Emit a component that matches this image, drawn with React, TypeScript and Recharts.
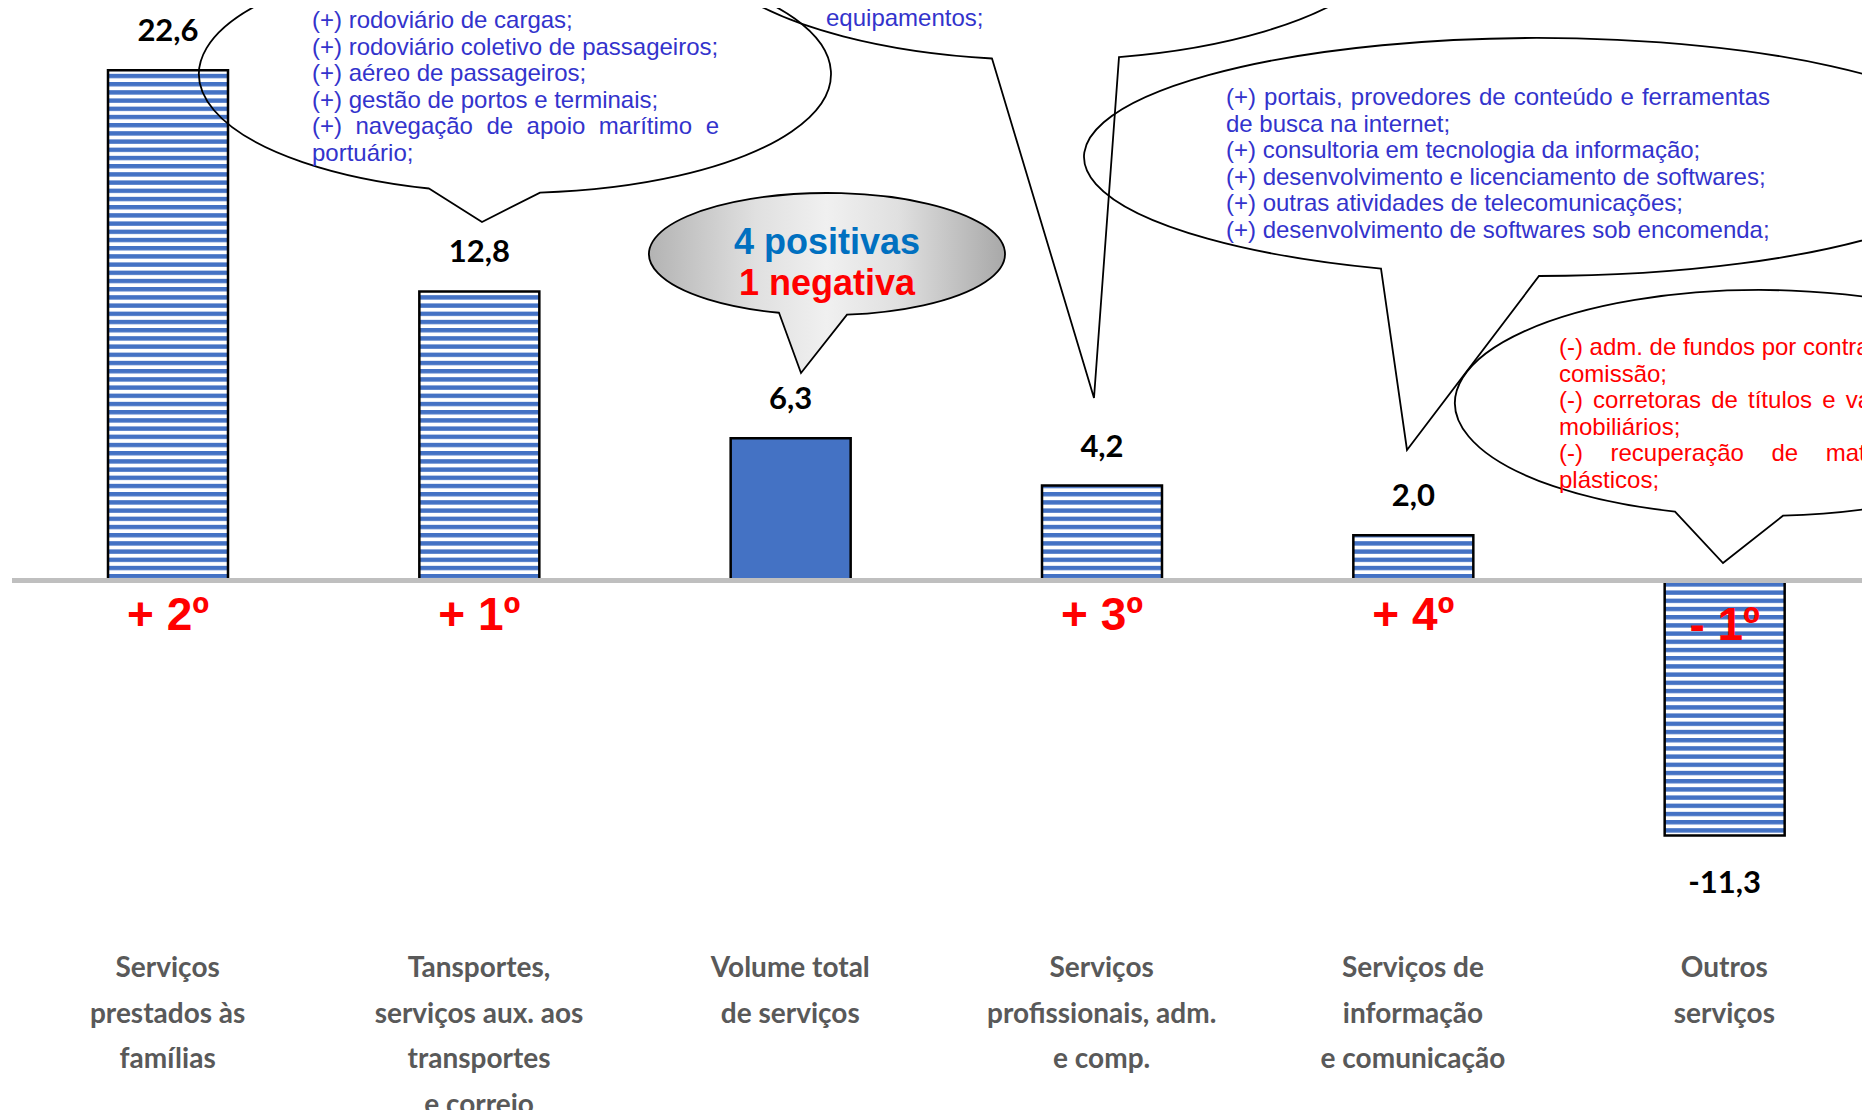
import React from 'react';
import { BarChart, Bar, XAxis, YAxis, Cell, LabelList, ReferenceLine } from 'recharts';

// ---------- data ----------
const categories = [
  'Serviços prestados às famílias',
  'Tansportes, serviços aux. aos transportes e correio',
  'Volume total de serviços',
  'Serviços profissionais, adm. e comp.',
  'Serviços de informação e comunicação',
  'Outros serviços',
];
const categoryLines = [
  ['Serviços', 'prestados às', 'famílias'],
  ['Tansportes,', 'serviços aux. aos', 'transportes', 'e correio'],
  ['Volume total', 'de serviços'],
  ['Serviços', 'profissionais, adm.', 'e comp.'],
  ['Serviços de', 'informação', 'e comunicação'],
  ['Outros', 'serviços'],
];
const values = [22.6, 12.8, 6.3, 4.2, 2.0, -11.3];
const ranks = ['+ 2º', '+ 1º', '', '+ 3º', '+ 4º', '- 1º'];
const totalFlags = [false, false, true, false, false, false];

const transportNotes = [
  '(+) rodoviário de cargas;',
  '(+) rodoviário coletivo de passageiros;',
  '(+) aéreo de passageiros;',
  '(+) gestão de portos e terminais;',
  '(+) navegação de apoio marítimo e',
  'portuário;',
];
const transportJustified = [4];
const profNotes = ['(+) aluguel de máquinas e', 'equipamentos;'];
const profJustified = [0];
const infoNotes = [
  '(+) portais, provedores de conteúdo e ferramentas',
  'de busca na internet;',
  '(+) consultoria em tecnologia da informação;',
  '(+) desenvolvimento e licenciamento de softwares;',
  '(+) outras atividades de telecomunicações;',
  '(+) desenvolvimento de softwares sob encomenda;',
];
const infoJustified = [0];
const otherNotes = [
  '(-) adm. de fundos por contrato ou',
  'comissão;',
  '(-) corretoras de títulos e valores',
  'mobiliários;',
  '(-) recuperação de materiais',
  'plásticos;',
];
const otherJustified = [0, 2, 4];
const summaryPositive = '4 positivas';
const summaryNegative = '1 negativa';

const data = categories.map((name, i) => ({
  name,
  value: values[i],
  rank: ranks[i],
}));

// ---------- helpers ----------
const fmt = (v: number) => v.toFixed(1).replace('.', ',');
const NUM_FONT = 'Lato, sans-serif';
const ARIAL = "'Liberation Sans', Arial, sans-serif";

let ctx: CanvasRenderingContext2D | null = null;
function measure(text: string, font: string) {
  if (!ctx) ctx = document.createElement('canvas').getContext('2d');
  if (!ctx) return text.length * 10;
  ctx.font = font;
  return ctx.measureText(text).width;
}

const ValueLabel = (props: any) => {
  const x = Number(props.x), y = Number(props.y), w = Number(props.width), h = Number(props.height);
  const v = Number(props.value);
  const top = Math.min(y, y + h), bottom = Math.max(y, y + h);
  const ty = v >= 0 ? top - 29 : bottom + 58;
  return (
    <text x={x + w / 2} y={ty} textAnchor="middle" fontFamily={NUM_FONT} fontWeight={700} fontSize={31} fill="#000">
      {fmt(v)}
    </text>
  );
};

const RankLabel = (props: any) => {
  const x = Number(props.x), y = Number(props.y), w = Number(props.width), h = Number(props.height);
  const r = String(props.value ?? '');
  if (!r) return null;
  const neg = r.trim().startsWith('-');
  const top = Math.min(y, y + h), bottom = Math.max(y, y + h);
  const zero = neg ? top : bottom;
  const ty = zero + (neg ? 60 : 50);
  return (
    <text x={x + w / 2} y={ty} textAnchor="middle" fontFamily={ARIAL} fontWeight={700} fontSize={46} fill="#FF0000">
      {r}
    </text>
  );
};

const CatTick = (props: any) => {
  const { x, y, payload } = props;
  const lines = categoryLines[payload.index] || [];
  return (
    <g>
      <text x={x} textAnchor="middle" fontFamily={NUM_FONT} fontWeight={700} fontSize={28} fill="#595959">
        {lines.map((l, i) => (
          <tspan key={i} x={x} y={Number(y) + 58 + i * 45.5}>{l}</tspan>
        ))}
      </text>
    </g>
  );
};

function bubblePath(cx: number, cy: number, rx: number, ry: number, b1: number, b2: number, tx: number, ty: number) {
  const by = (bx: number) => cy + ry * Math.sqrt(Math.max(0, 1 - ((bx - cx) / rx) ** 2));
  return `M ${b1} ${by(b1)} L ${tx} ${ty} L ${b2} ${by(b2)} A ${rx} ${ry} 0 1 0 ${b1} ${by(b1)} Z`;
}

const NoteBlock = ({ lines, justified, x, y0, lh, width, color, size }: any) => {
  const font = `${size}px 'Liberation Sans'`;
  return (
    <g fontFamily={ARIAL} fontSize={size} fill={color}>
      {lines.map((line: string, i: number) => {
        const y = y0 + i * lh;
        if (!justified.includes(i)) {
          return <text key={i} x={x} y={y}>{line}</text>;
        }
        const words = line.split(' ');
        const ws = words.map((w) => measure(w, font));
        const total = ws.reduce((a, b) => a + b, 0);
        const gap = (width - total) / Math.max(1, words.length - 1);
        let cx = x;
        return (
          <text key={i} y={y}>
            {words.map((w, j) => {
              const el = <tspan key={j} x={cx}>{w}</tspan>;
              cx += ws[j] + gap;
              return el;
            })}
          </text>
        );
      })}
    </g>
  );
};

const Callouts = () => (
  <svg width={1870} height={1118} style={{ position: 'absolute', left: 0, top: 0, pointerEvents: 'none' }}>
    <defs>
      <linearGradient id="grayGrad" x1="0" y1="0" x2="1" y2="0">
        <stop offset="0" stopColor="#B3B3B3" />
        <stop offset="0.3" stopColor="#E0E0E0" />
        <stop offset="0.5" stopColor="#F0F0F0" />
        <stop offset="0.7" stopColor="#E0E0E0" />
        <stop offset="1" stopColor="#A8A8A8" />
      </linearGradient>
    </defs>
    {/* transportes callout */}
    <path d={bubblePath(515, 74, 316, 119, 429, 540, 482, 222)} fill="none" stroke="#000" strokeWidth={1.8} />
    <NoteBlock lines={transportNotes} justified={transportJustified} x={312} y0={28} lh={26.6} width={407} color="#3333CC" size={24} />
    {/* profissionais callout */}
    <path d={bubblePath(1045, -70, 351, 130, 992, 1119, 1094, 398)} fill="none" stroke="#000" strokeWidth={1.8} />
    <NoteBlock lines={profNotes} justified={profJustified} x={826} y0={-0.6} lh={26.6} width={450} color="#3333CC" size={24} />
    {/* informação callout */}
    <path d={bubblePath(1538, 157, 454, 119, 1381, 1539, 1407, 450)} fill="none" stroke="#000" strokeWidth={1.8} />
    <NoteBlock lines={infoNotes} justified={infoJustified} x={1226} y0={105} lh={26.6} width={544} color="#3333CC" size={24} />
    {/* outros callout */}
    <path d={bubblePath(1760, 403, 305, 113, 1675, 1783, 1723, 563)} fill="none" stroke="#000" strokeWidth={1.8} />
    <NoteBlock lines={otherNotes} justified={otherJustified} x={1559} y0={355} lh={26.6} width={364} color="#FF0000" size={24} />
    {/* summary callout */}
    <path d={bubblePath(827, 254, 178, 61, 779, 847, 801, 373)} fill="url(#grayGrad)" stroke="#000" strokeWidth={1.8} />
    <text x={827} y={254} textAnchor="middle" fontFamily={ARIAL} fontWeight={700} fontSize={36} fill="#0070C0">{summaryPositive}</text>
    <text x={827} y={295} textAnchor="middle" fontFamily={ARIAL} fontWeight={700} fontSize={36} fill="#FF0000">{summaryNegative}</text>
  </svg>
);

export default function App() {
  return (
    <div style={{ position: 'relative', width: 1870, height: 1118, overflow: 'hidden', margin: -8, background: '#fff' }}>
      <svg width={0} height={0} style={{ position: 'absolute' }}>
        <defs>
          <pattern id="stripes" patternUnits="userSpaceOnUse" width={8} height={8.2}>
            <rect x={0} y={0} width={8} height={8.2} fill="#FFFFFF" />
            <rect x={0} y={0} width={8} height={4.4} fill="#4472C4" />
          </pattern>
        </defs>
      </svg>
      <div style={{ position: 'absolute', left: 0, top: 0 }}>
        <BarChart width={1900} height={1118} data={data} margin={{ top: 16, right: 20, bottom: 0, left: 12 }}>
          <XAxis dataKey="name" interval={0} tick={<CatTick />} tickLine={false} axisLine={false} tickSize={0} tickMargin={0} height={199} />
          <YAxis hide domain={[-15, 25]} width={0} allowDataOverflow />
          <Bar dataKey="value" barSize={120} stroke="#000" strokeWidth={2.5} isAnimationActive={false}>
            {data.map((d, i) => (
              <Cell key={i} fill={totalFlags[i] ? '#4472C4' : 'url(#stripes)'} />
            ))}
            <LabelList dataKey="value" content={<ValueLabel />} />
            <LabelList dataKey="rank" content={<RankLabel />} />
          </Bar>
          <ReferenceLine y={0} stroke="#BFBFBF" strokeWidth={5} ifOverflow="extendDomain" />
        </BarChart>
      </div>
      <Callouts />
    </div>
  );
}
